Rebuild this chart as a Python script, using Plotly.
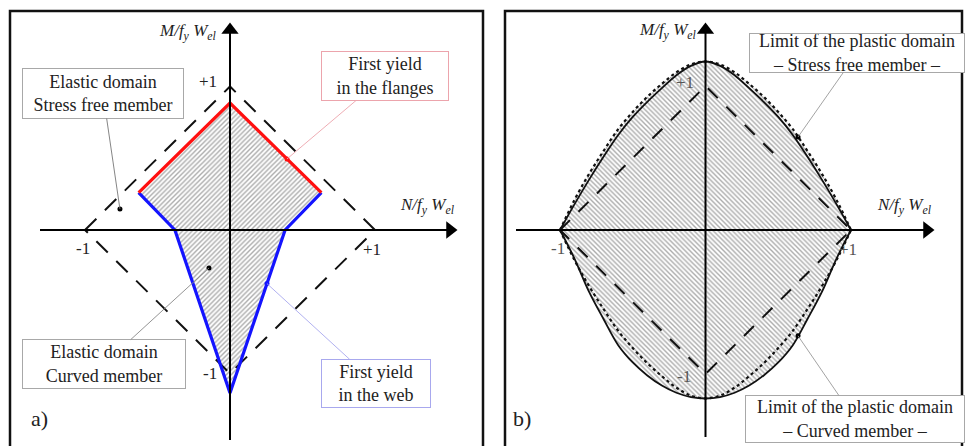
import numpy as np
import plotly.graph_objects as go

# ---------------- data ----------------
# Panel a) first-yield interaction diagram  (N/fyWel , M/fyWel)
flange_N = [-0.63, 0.0, 0.63]
flange_M = [0.26, 0.885, 0.26]
web_N = [-0.63, -0.38, 0.0, 0.38, 0.63]
web_M = [0.26, 0.0, -1.136, 0.0, 0.26]
elastic_N = [-1.0, 0.0, 1.0, 0.0, -1.0]
elastic_M = [0.0, 1.0, 0.0, -1.0, 0.0]

# Panel b) limits of the plastic domain
plastic_N = [-1.0, -0.9, -0.8, -0.7, -0.6, -0.5, -0.4, -0.3, -0.2, -0.1, 0.0,
             0.1, 0.2, 0.3, 0.4, 0.5, 0.6, 0.7, 0.8, 0.9, 1.0]
free_upper_M = [0.0, 0.21, 0.39, 0.55, 0.70, 0.82, 0.925, 1.015, 1.095, 1.15, 1.17,
                1.15, 1.095, 1.015, 0.925, 0.82, 0.70, 0.55, 0.39, 0.21, 0.0]
free_lower_M = [0.0, -0.21, -0.39, -0.55, -0.70, -0.82, -0.925, -1.015, -1.095, -1.15, -1.17,
                -1.15, -1.095, -1.015, -0.925, -0.82, -0.70, -0.55, -0.39, -0.21, 0.0]
curved_upper_M = [0.0, 0.18, 0.35, 0.51, 0.66, 0.785, 0.89, 0.985, 1.075, 1.14, 1.17,
                  1.14, 1.075, 0.985, 0.89, 0.785, 0.66, 0.51, 0.35, 0.18, 0.0]
curved_lower_M = [0.0, -0.20, -0.43, -0.62, -0.80, -0.92, -1.01, -1.08, -1.13, -1.16, -1.17,
                  -1.16, -1.13, -1.08, -1.01, -0.92, -0.80, -0.62, -0.43, -0.20, 0.0]

tick_text = ["+1", "-1", "+1", "-1"]
axis_title_M = "<i>M/f<sub>y</sub> W<sub>el</sub></i>"
axis_title_N = "<i>N/f<sub>y</sub> W<sub>el</sub></i>"

# ---------------- geometry (pixels) ----------------
W, H = 965, 446
FONT = "Liberation Serif"
A = dict(ox=230.0, oy=230.0, ux=145.0, uy=143.5, d0=0.0, d1=0.5)
B = dict(ox=705.5, oy=230.0, ux=145.5, uy=144.0, d0=0.5, d1=1.0)


def rng(P):
    xr = [(P["d0"] * W - P["ox"]) / P["ux"], (P["d1"] * W - P["ox"]) / P["ux"]]
    yr = [(P["oy"] - H) / P["uy"], P["oy"] / P["uy"]]
    return xr, yr


def to_data(P, px, py):
    return (px - P["ox"]) / P["ux"], (P["oy"] - py) / P["uy"]


def to_px(P, n, m):
    return P["ox"] + n * P["ux"], P["oy"] - m * P["uy"]


fig = go.Figure()
HATCH = "#5a5a5a"

# ---------- panel a ----------
poly_N = flange_N + web_N[::-1][1:]
poly_M = flange_M + web_M[::-1][1:]
fig.add_trace(go.Scatter(x=poly_N, y=poly_M, mode="lines", fill="toself",
                         line=dict(width=0, color="rgba(0,0,0,0)"),
                         fillcolor="rgba(0,0,0,0)",
                         fillpattern=dict(shape="/", size=3.4, solidity=0.42,
                                          fgcolor=HATCH, bgcolor="rgba(255,255,255,0)"),
                         xaxis="x", yaxis="y", hoverinfo="skip"))
fig.add_trace(go.Scatter(x=elastic_N, y=elastic_M, mode="lines",
                         line=dict(color="#111", width=2, dash="16px,12px"),
                         xaxis="x", yaxis="y", hoverinfo="skip"))
fig.add_trace(go.Scatter(x=web_N, y=web_M, mode="lines",
                         line=dict(color="#1414ff", width=3.2),
                         xaxis="x", yaxis="y", hoverinfo="skip"))
fig.add_trace(go.Scatter(x=flange_N, y=flange_M, mode="lines",
                         line=dict(color="#ff1010", width=3.2),
                         xaxis="x", yaxis="y", hoverinfo="skip"))

# ---------- panel b ----------
fill_N = plastic_N + plastic_N[::-1]
fill_M = free_upper_M + curved_lower_M[::-1]
fig.add_trace(go.Scatter(x=fill_N, y=fill_M, mode="lines", fill="toself",
                         line=dict(width=0, color="rgba(0,0,0,0)"),
                         fillcolor="rgba(0,0,0,0)",
                         fillpattern=dict(shape="\\", size=3.4, solidity=0.42,
                                          fgcolor=HATCH, bgcolor="rgba(255,255,255,0)"),
                         xaxis="x2", yaxis="y2", hoverinfo="skip"))
fig.add_trace(go.Scatter(x=elastic_N, y=elastic_M, mode="lines",
                         line=dict(color="#111", width=2, dash="14px,12px"),
                         xaxis="x2", yaxis="y2", hoverinfo="skip"))
for arr in (free_upper_M, free_lower_M):
    fig.add_trace(go.Scatter(x=plastic_N, y=arr, mode="lines", line_shape="spline",
                             line=dict(color="#111", width=2.2, dash="dot"),
                             xaxis="x2", yaxis="y2", hoverinfo="skip"))
for arr in (curved_upper_M, curved_lower_M):
    fig.add_trace(go.Scatter(x=plastic_N, y=arr, mode="lines", line_shape="spline",
                             line=dict(color="#111", width=1.8),
                             xaxis="x2", yaxis="y2", hoverinfo="skip"))

annotations = []
shapes = []

# axes with arrowheads
for P, xa, ya, (x_tail, x_tip), (y_tail, y_tip) in [
        (A, "x", "y", (40, 458), (440, 22)),
        (B, "x2", "y2", (516, 935), (437, 22))]:
    n0, _ = to_data(P, x_tail, 0)
    n1, _ = to_data(P, x_tip - 8, 0)
    _, m0 = to_data(P, 0, y_tail)
    _, m1 = to_data(P, 0, y_tip + 8)
    fig.add_trace(go.Scatter(x=[n0, n1], y=[0, 0], mode="lines",
                             line=dict(color="#000", width=2), xaxis=xa, yaxis=ya,
                             hoverinfo="skip", cliponaxis=False))
    fig.add_trace(go.Scatter(x=[0, 0], y=[m0, m1], mode="lines",
                             line=dict(color="#000", width=2), xaxis=xa, yaxis=ya,
                             hoverinfo="skip", cliponaxis=False))
    fig.add_trace(go.Scatter(x=[n1], y=[0], mode="markers",
                             marker=dict(symbol="triangle-right", size=15, color="#000",
                                         line=dict(width=0)),
                             xaxis=xa, yaxis=ya, hoverinfo="skip", cliponaxis=False))
    fig.add_trace(go.Scatter(x=[0], y=[m1], mode="markers",
                             marker=dict(symbol="triangle-up", size=15, color="#000",
                                         line=dict(width=0)),
                             xaxis=xa, yaxis=ya, hoverinfo="skip", cliponaxis=False))

# axis titles
for P, xa, ya, mpos, npos in [(A, "x", "y", (188, 32), (427, 206)),
                              (B, "x2", "y2", (668, 31), (904, 206))]:
    for txt, (px, py) in ((axis_title_M, mpos), (axis_title_N, npos)):
        n, m = to_data(P, px, py)
        annotations.append(dict(x=n, y=m, xref=xa, yref=ya, text=txt, showarrow=False,
                                font=dict(family=FONT, size=17, color="#222")))

# tick labels
for P, xa, ya, col, pos in [
        (A, "x", "y", "#222", [(208, 81), (83, 248), (372, 249), (210, 373)]),
        (B, "x2", "y2", "#555", [(685, 82), (558, 248), (848, 249), (684, 376)])]:
    for txt, (px, py) in zip(tick_text, pos):
        n, m = to_data(P, px, py)
        annotations.append(dict(x=n, y=m, xref=xa, yref=ya, text=txt, showarrow=False,
                                font=dict(family=FONT, size=17, color=col)))

# callout boxes
boxes = [
    (A, "x", "y", "Elastic domain<br>Stress free member", -0.759, 0.146,
     103, 93.5, 162, 51, "#a8a8a8", "#777", "#000"),
    (A, "x", "y", "First yield<br>in the flanges", 0.393,
     float(np.interp(0.393, flange_N[1:], [0.885, 0.26])),
     385, 76, 128, 50, "#eca4ac", "#eca4ac", "#ff1010"),
    (A, "x", "y", "Elastic domain<br>Curved member", -0.145, -0.265,
     104, 364, 164, 50, "#a8a8a8", "#888", "#000"),
    (A, "x", "y", "First yield<br>in the web", 0.255,
     float(np.interp(0.255, [0.0, 0.38], [-1.136, 0.0])),
     376, 383.5, 110, 49, "#a8a8ee", "#a8a8ee", "#1414ff"),
    (B, "x2", "y2", "Limit of the plastic domain<br>\u2013 Stress free member \u2013", 0.636,
     float(np.interp(0.636, plastic_N, free_upper_M)),
     857, 53, 216, 40, "#a8a8a8", "#999", "#000"),
    (B, "x2", "y2", "Limit of the plastic domain<br>\u2013 Curved member \u2013", 0.636,
     float(np.interp(0.636, plastic_N, curved_lower_M)),
     855, 419, 220, 48, "#a8a8a8", "#999", "#000"),
]
for P, xa, ya, txt, dn, dm, cx, cy, w, h, bc, lc, dc in boxes:
    px, py = to_px(P, dn, dm)
    annotations.append(dict(x=dn, y=dm, xref=xa, yref=ya, text=txt, showarrow=True,
                            arrowhead=0, arrowwidth=0.9, arrowcolor=lc,
                            ax=cx - px, ay=cy - py, width=w - 2, height=h - 2,
                            borderpad=0, bordercolor=bc, borderwidth=1, bgcolor="white",
                            align="center", valign="middle",
                            font=dict(family=FONT, size=18, color="#222")))
    fig.add_trace(go.Scatter(x=[dn], y=[dm], mode="markers",
                             marker=dict(size=5, color=dc),
                             xaxis=xa, yaxis=ya, hoverinfo="skip"))

# panel letters
for txt, px in (("a)", 29), ("b)", 522)):
    annotations.append(dict(x=px / W, y=1 - 433 / H, xref="paper", yref="paper", text=txt,
                            showarrow=False, font=dict(family=FONT, size=22, color="#222")))

# frames
for x0, x1 in ((10, 483), (505, 962)):
    shapes.append(dict(type="rect", xref="paper", yref="paper",
                       x0=x0 / W, x1=x1 / W, y0=-0.02, y1=1 - 11 / H,
                       line=dict(color="#111", width=2.5)))

xa_r, ya_r = rng(A)
xb_r, yb_r = rng(B)
ax_style = dict(visible=False, showgrid=False, zeroline=False, fixedrange=True)
fig.update_layout(
    width=W, height=H, margin=dict(l=0, r=0, t=0, b=0),
    paper_bgcolor="white", plot_bgcolor="white", showlegend=False,
    xaxis=dict(domain=[A["d0"], A["d1"]], range=xa_r, anchor="y", **ax_style),
    yaxis=dict(domain=[0, 1], range=ya_r, anchor="x", **ax_style),
    xaxis2=dict(domain=[B["d0"], B["d1"]], range=xb_r, anchor="y2", **ax_style),
    yaxis2=dict(domain=[0, 1], range=yb_r, anchor="x2", **ax_style),
    annotations=annotations, shapes=shapes,
)

fig.write_html("out.html", config={"displayModeBar": False},
               post_script="document.body.style.margin='0px';"
                           "document.body.style.overflow='hidden';")
